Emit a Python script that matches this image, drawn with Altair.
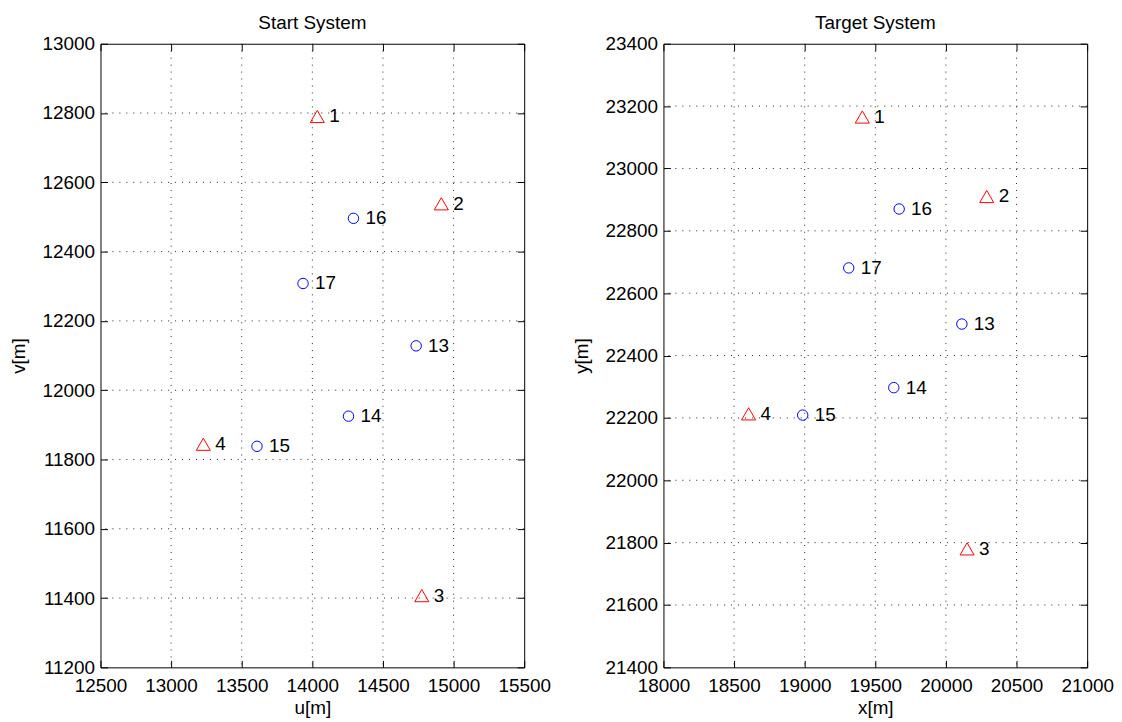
import altair as alt
import pandas as pd

# ---- data -------------------------------------------------------------
control_ids = ["1", "2", "3", "4"]
new_ids = ["13", "14", "15", "16", "17"]

start_control_u = [14035, 14913, 14775, 13228]
start_control_v = [12790, 12538, 11407, 11844]
start_new_u = [14735, 14256, 13608, 14291, 13934]
start_new_v = [12128, 11925, 11838, 12496, 12308]

target_control_x = [19408, 20289, 20150, 18603]
target_control_y = [23165, 22910, 21780, 22213]
target_new_x = [20113, 19631, 18986, 19669, 19312]
target_new_y = [22501, 22297, 22209, 22870, 22681]

start_x_ticks = [12500, 13000, 13500, 14000, 14500, 15000, 15500]
start_y_ticks = [11200, 11400, 11600, 11800, 12000, 12200, 12400, 12600, 12800, 13000]
target_x_ticks = [18000, 18500, 19000, 19500, 20000, 20500, 21000]
target_y_ticks = [21400, 21600, 21800, 22000, 22200, 22400, 22600, 22800, 23000, 23200, 23400]

FONT = "Liberation Sans"
FS = 19
TICK = 7


def panel(title, xt, yt, cx, cy, nx, ny, xlab, ylab):
    ctrl = pd.DataFrame({"x": cx, "y": cy, "id": control_ids})
    new = pd.DataFrame({"x": nx, "y": ny, "id": new_ids})
    allpts = pd.concat([ctrl, new], ignore_index=True)

    xs = alt.Scale(domain=[xt[0], xt[-1]], nice=False, zero=False)
    ys = alt.Scale(domain=[yt[0], yt[-1]], nice=False, zero=False)

    grid_style = dict(color="#222222", strokeDash=[1, 6], strokeWidth=1)
    vgrid = alt.Chart(pd.DataFrame({"v": xt[1:-1]})).mark_rule(**grid_style).encode(
        x=alt.X("v:Q", scale=xs, axis=None)
    )
    hgrid = alt.Chart(pd.DataFrame({"v": yt[1:-1]})).mark_rule(**grid_style).encode(
        y=alt.Y("v:Q", scale=ys, axis=None)
    )

    tri = alt.Chart(ctrl).mark_point(
        shape="triangle-up", size=200, color="#ff0000", filled=False, strokeWidth=1, opacity=1
    ).encode(
        x=alt.X("x:Q", scale=xs, axis=alt.Axis(
            orient="bottom", values=xt, format="d", offset=-TICK, tickSize=TICK,
            domain=False, grid=False, labelPadding=9, labelOverlap=False, labelFlush=False,
            title=xlab, titlePadding=3)),
        y=alt.Y("y:Q", scale=ys, axis=alt.Axis(
            orient="left", values=yt, format="d", offset=-TICK, tickSize=TICK,
            domain=False, grid=False, labelPadding=6, labelOverlap=False, labelFlush=False,
            title=ylab, titlePadding=14)),
    )
    circ = alt.Chart(new).mark_point(
        shape="circle", size=110, color="#0000ff", filled=False, strokeWidth=1, opacity=1
    ).encode(
        x=alt.X("x:Q", scale=xs, axis=None),
        y=alt.Y("y:Q", scale=ys, axis=None),
    )
    labels = alt.Chart(allpts).mark_text(
        align="left", baseline="middle", dx=12, fontSize=FS, font=FONT, color="black"
    ).encode(
        x=alt.X("x:Q", scale=xs, axis=alt.Axis(
            orient="top", values=xt, offset=-TICK, tickSize=TICK, domain=False,
            grid=False, labels=False, title=None)),
        y=alt.Y("y:Q", scale=ys, axis=alt.Axis(
            orient="right", values=yt, offset=-TICK, tickSize=TICK, domain=False,
            grid=False, labels=False, title=None)),
        text="id:N",
    )
    return alt.layer(vgrid, hgrid, tri, circ, labels).resolve_axis(
        x="independent", y="independent"
    ).properties(
        width=426, height=627,
        title=alt.TitleParams(title, fontSize=FS, font=FONT, fontWeight="normal",
                              color="black", anchor="middle", frame="group", offset=2),
    )


left = panel("Start System", start_x_ticks, start_y_ticks,
             start_control_u, start_control_v, start_new_u, start_new_v, "u[m]", "v[m]")
right = panel("Target System", target_x_ticks, target_y_ticks,
              target_control_x, target_control_y, target_new_x, target_new_y, "x[m]", "y[m]")

chart = alt.hconcat(left, right, spacing=140, bounds="flush").properties(
    padding={"left": 0, "top": 3, "right": 0, "bottom": 0},
    background="white",
).configure_view(
    stroke="black", strokeWidth=1
).configure_axis(
    labelFont=FONT, labelFontSize=FS, labelColor="black",
    titleFont=FONT, titleFontSize=FS, titleFontWeight="normal", titleColor="black",
    tickColor="black", tickWidth=1,
)

chart.save("out.html", embed_options={"renderer": "svg", "actions": False})
